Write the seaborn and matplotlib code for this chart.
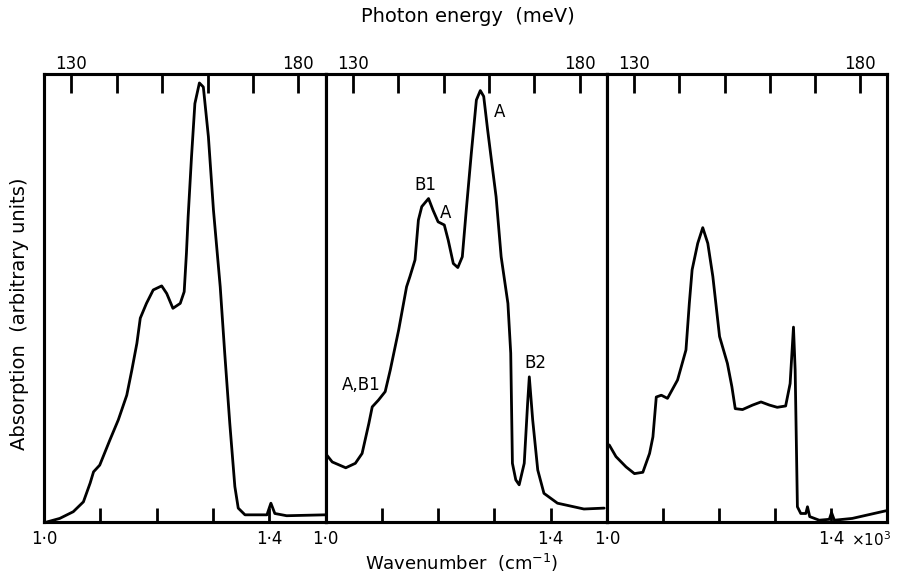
import numpy as np
import pandas as pd
import matplotlib
matplotlib.use("Agg")
import matplotlib.pyplot as plt
import matplotlib.transforms as mtransforms
import seaborn as sns

# ---------------- data (wavenumber in 10^3 cm^-1, absorption arbitrary) -------------
p1_w = [1.005, 1.028, 1.052, 1.070, 1.082, 1.088, 1.099, 1.117, 1.132, 1.147, 1.156,
        1.165, 1.171, 1.182, 1.194, 1.209, 1.218, 1.229, 1.242, 1.249, 1.253, 1.256,
        1.262, 1.268, 1.276, 1.283, 1.292, 1.301, 1.313, 1.321, 1.330, 1.339, 1.345,
        1.357, 1.396, 1.403, 1.410, 1.431, 1.499]
p1_a = [0.000, 0.008, 0.023, 0.045, 0.087, 0.112, 0.127, 0.183, 0.228, 0.283, 0.339,
        0.399, 0.455, 0.488, 0.518, 0.527, 0.510, 0.477, 0.488, 0.514, 0.600, 0.681,
        0.815, 0.934, 0.980, 0.971, 0.860, 0.696, 0.525, 0.377, 0.220, 0.079, 0.031,
        0.016, 0.016, 0.042, 0.019, 0.014, 0.016]

p2_w = [1.000, 1.012, 1.036, 1.053, 1.065, 1.077, 1.083, 1.094, 1.106, 1.115, 1.130,
        1.144, 1.150, 1.159, 1.165, 1.171, 1.183, 1.191, 1.200, 1.211, 1.218, 1.227,
        1.235, 1.243, 1.250, 1.259, 1.268, 1.275, 1.281, 1.288, 1.294, 1.303, 1.312,
        1.324, 1.329, 1.332, 1.338, 1.344, 1.353, 1.359, 1.362, 1.368, 1.377, 1.388,
        1.412, 1.459, 1.495]
p2_a = [0.153, 0.134, 0.121, 0.131, 0.153, 0.220, 0.257, 0.272, 0.291, 0.339, 0.429,
        0.525, 0.548, 0.585, 0.674, 0.704, 0.722, 0.696, 0.670, 0.663, 0.629, 0.577,
        0.568, 0.592, 0.696, 0.823, 0.942, 0.963, 0.950, 0.875, 0.815, 0.726, 0.592,
        0.488, 0.377, 0.131, 0.094, 0.083, 0.131, 0.265, 0.324, 0.228, 0.116, 0.064,
        0.042, 0.029, 0.031]

p3_w = [1.004, 1.016, 1.034, 1.049, 1.064, 1.076, 1.082, 1.088, 1.097, 1.108, 1.126,
        1.141, 1.147, 1.152, 1.162, 1.171, 1.180, 1.189, 1.201, 1.215, 1.223, 1.229,
        1.242, 1.260, 1.275, 1.290, 1.304, 1.319, 1.327, 1.333, 1.336, 1.340, 1.346,
        1.355, 1.358, 1.362, 1.379, 1.397, 1.401, 1.406, 1.438, 1.498]
p3_a = [0.172, 0.146, 0.123, 0.108, 0.111, 0.153, 0.190, 0.279, 0.283, 0.276, 0.317,
        0.384, 0.488, 0.563, 0.622, 0.657, 0.622, 0.548, 0.414, 0.354, 0.302, 0.253,
        0.251, 0.261, 0.268, 0.261, 0.256, 0.259, 0.309, 0.435, 0.339, 0.034, 0.019,
        0.019, 0.034, 0.012, 0.004, 0.006, 0.021, 0.004, 0.008, 0.025]

# annotations in panel 2
ann_text = ["A", "B1", "A", "A,B1", "B2"]
ann_w = [1.310, 1.177, 1.214, 1.063, 1.373]
ann_a = [0.915, 0.752, 0.690, 0.306, 0.355]

bottom_ticks = [1.0, 1.1, 1.2, 1.3, 1.4]
bottom_labels = ["1·0", "", "", "", "1·4"]
top_ticks = [130, 140, 150, 160, 170, 180]
top_labels = ["130", "", "", "", "", "180"]
CM_PER_MEV = 8.0655

# ---------------- style -------------
sns.set_style("white")
plt.rcParams["font.family"] = ["DejaVu Sans"]
plt.rcParams["text.color"] = "black"
plt.rcParams["xtick.color"] = "black"
plt.rcParams["xtick.labelcolor"] = "black"
plt.rcParams["axes.edgecolor"] = "black"

fig = plt.figure(figsize=(8.98, 5.76), dpi=100)
W, H = 898.0, 576.0
bottom_px, top_px = 522.0, 74.0
lefts = [44.0, 325.5, 607.0]
widths = [281.5, 281.5, 280.0]
panels = [(p1_w, p1_a), (p2_w, p2_a), (p3_w, p3_a)]

axes = []
for (xw, ya), l, wd in zip(panels, lefts, widths):
    ax = fig.add_axes([l / W, 1 - bottom_px / H, wd / W, (bottom_px - top_px) / H])
    df = pd.DataFrame({"w": xw, "a": ya})
    sns.lineplot(data=df, x="w", y="a", ax=ax, color="black", linewidth=2.0,
                 sort=False, estimator=None)
    for ln in ax.get_lines():
        ln.set_solid_joinstyle("round")
        ln.set_solid_capstyle("round")
    ax.set_xlim(1.0, 1.5)
    ax.set_ylim(0, 1)
    ax.set_yticks([])
    ax.set_xlabel("")
    ax.set_ylabel("")
    ax.set_xticks(bottom_ticks)
    ax.set_xticklabels(bottom_labels)
    ax.tick_params(axis="x", direction="in", length=10, width=2.0, pad=6,
                   labelsize=12, color="black", labelcolor="black")
    for s in ax.spines.values():
        s.set_linewidth(2.2)
        s.set_color("black")
    ax2 = ax.twiny()
    ax2.set_xlim(1000 * 1.0 / CM_PER_MEV, 1000 * 1.5 / CM_PER_MEV)
    ax2.set_xticks(top_ticks)
    ax2.set_xticklabels(top_labels)
    ax2.tick_params(axis="x", direction="in", length=14, width=2.0, pad=1,
                    labelsize=12, color="black", labelcolor="black")
    for s in ax2.spines.values():
        s.set_linewidth(2.2)
        s.set_color("black")
    ax2.set_yticks([])
    axes.append(ax)

# annotations
for t, xw, ya in zip(ann_text, ann_w, ann_a):
    axes[1].text(xw, ya, t, fontsize=12, ha="center", va="center", color="black")

# x10^3 in panel 3
trans = mtransforms.blended_transform_factory(axes[2].transData, axes[2].transAxes)
axes[2].text(1.436, -0.040, "×10$^3$", transform=trans, ha="left", va="center",
             fontsize=11, color="black")

fig.text(468 / W, 1 - 16 / H, "Photon energy  (meV)", ha="center", va="center",
         fontsize=14, color="black")
fig.text(462 / W, 1 - 563 / H, "Wavenumber  (cm$^{-1}$)", ha="center", va="center",
         fontsize=13, color="black")
fig.text(20 / W, 1 - 314 / H, "Absorption  (arbitrary units)", ha="center",
         va="center", rotation=90, fontsize=14, color="black")

fig.savefig("out.png", dpi=100)
